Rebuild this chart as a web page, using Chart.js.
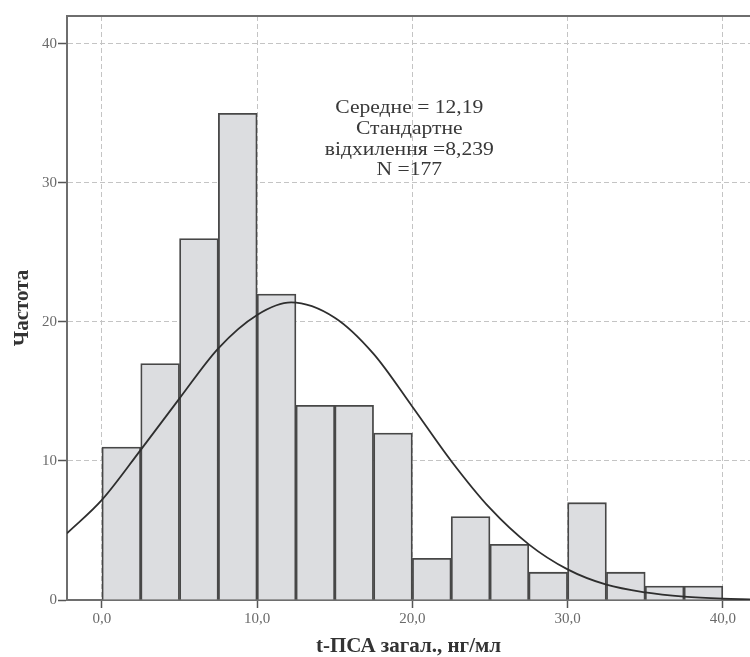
<!DOCTYPE html>
<html>
<head>
<meta charset="utf-8">
<script src="https://cdn.jsdelivr.net/npm/chart.js@4.4.1/dist/chart.umd.min.js"></script>
<style>
  html, body { margin: 0; padding: 0; background: #ffffff; overflow: hidden; }
  #wrap { width: 750px; height: 657px; }
</style>
</head>
<body>
<div id="wrap"><canvas id="c" width="750" height="657"></canvas></div>
<script>
// ---- data ----
const binCenters = [1.25, 3.75, 6.25, 8.75, 11.25, 13.75, 16.25, 18.75, 21.25, 23.75, 26.25, 28.75, 31.25, 33.75, 36.25, 38.75];
const binCounts  = [11, 17, 26, 35, 22, 14, 14, 12, 3, 6, 4, 2, 7, 2, 1, 1];

const curveX = [-2.25, 0, 2.5, 5, 7.5, 10, 12.19, 15, 17.5, 20, 22.5, 25, 27.5, 30, 32.5, 35, 37.5, 40, 41.75];
const curveY = [4.8, 7.2, 10.8, 14.5, 18.1, 20.5, 21.4, 20.3, 17.7, 13.9, 10.0, 6.6, 4.0, 2.2, 1.1, 0.55, 0.25, 0.1, 0.05];

const xTickValues = [0, 10, 20, 30, 40];
const xTickLabels = ['0,0', '10,0', '20,0', '30,0', '40,0'];
const yTickValues = [0, 10, 20, 30, 40];
const yTickLabels = ['0', '10', '20', '30', '40'];

const statLines = ['Середне = 12,19', 'Стандартне', 'відхилення =8,239', 'N =177'];
const xTitle = 't-ПСА загал., нг/мл';
const yTitle = 'Частота';

// ---- chart ----
const SERIF = '"Liberation Serif", "DejaVu Serif", serif';

const barData = binCenters.map((x, i) => ({ x: x, y: binCounts[i] }));
const curveData = curveX.map((x, i) => ({ x: x, y: curveY[i] }));

const framePlugin = {
  id: 'frame',
  afterDraw(chart) {
    const ctx = chart.ctx;
    const a = chart.chartArea;
    ctx.save();
    ctx.strokeStyle = '#6e6e6e';
    ctx.lineWidth = 2;
    ctx.setLineDash([]);
    ctx.beginPath();
    ctx.moveTo(a.left - 1, a.top);
    ctx.lineTo(a.right, a.top);
    ctx.stroke();

    // stats text (slightly wide serif, as in the reference)
    const xs = chart.scales.x, ys = chart.scales.y;
    const cx = xs.getPixelForValue(19.8);
    const cy = ys.getPixelForValue(35.35);
    ctx.fillStyle = '#383838';
    ctx.font = '18px ' + SERIF;
    ctx.textAlign = 'center';
    ctx.textBaseline = 'middle';
    ctx.translate(cx, cy);
    ctx.scale(1.2, 1);
    statLines.forEach((t, i) => {
      ctx.fillText(t, 0, i * 20.7);
    });
    ctx.restore();
  }
};

new Chart(document.getElementById('c'), {
  type: 'bar',
  data: {
    datasets: [
      {
        type: 'line',
        data: curveData,
        borderColor: '#2e2e2e',
        borderWidth: 1.8,
        pointRadius: 0,
        fill: false,
        cubicInterpolationMode: 'monotone',
        order: 0
      },
      {
        type: 'bar',
        data: barData,
        backgroundColor: '#dcdde0',
        borderColor: '#474747',
        borderWidth: 1.8,
        barPercentage: 1,
        categoryPercentage: 1,
        order: 1
      }
    ]
  },
  options: {
    responsive: false,
    animation: false,
    layout: { padding: { top: 16, right: 0, left: 0, bottom: 0 } },
    plugins: { legend: { display: false }, tooltip: { enabled: false } },
    scales: {
      x: {
        type: 'linear',
        min: -2.25,
        max: 41.75,
        offset: false,
        afterBuildTicks(s) { s.ticks = xTickValues.map(v => ({ value: v })); },
        afterFit(s) { s.height = 57; },
        ticks: {
          autoSkip: false,
          maxRotation: 0,
          padding: 2,
          color: '#6a6a6a',
          font: { family: SERIF, size: 15 },
          callback(v) { const i = xTickValues.indexOf(v); return i >= 0 ? xTickLabels[i] : ''; }
        },
        grid: {
          offset: false,
          color: '#c4c4c4',
          lineWidth: 1,
          drawTicks: true,
          tickLength: 8,
          tickColor: '#555555',
          tickBorderDash: [],
          tickWidth: 1.5
        },
        border: { display: true, color: '#6e6e6e', width: 2, dash: [5, 3] },
        title: {
          display: true,
          text: xTitle,
          color: '#333333',
          font: { family: SERIF, size: 21, weight: 'bold', lineHeight: 1 },
          padding: { top: 0, bottom: 0 }
        }
      },
      y: {
        type: 'linear',
        min: 0,
        max: 42,
        afterBuildTicks(s) { s.ticks = yTickValues.map(v => ({ value: v })); },
        afterFit(s) { s.width = 67; },
        ticks: {
          padding: 1,
          color: '#6a6a6a',
          font: { family: SERIF, size: 15 },
          callback(v) { const i = yTickValues.indexOf(v); return i >= 0 ? yTickLabels[i] : ''; }
        },
        grid: {
          color: '#c4c4c4',
          lineWidth: 1,
          drawTicks: true,
          tickLength: 9,
          tickColor: '#555555',
          tickBorderDash: [],
          tickWidth: 1.5
        },
        border: { display: true, color: '#6e6e6e', width: 2, dash: [5, 3] },
        title: {
          display: true,
          text: yTitle,
          color: '#333333',
          font: { family: SERIF, size: 21, weight: 'bold', lineHeight: 1 },
          padding: { top: 12, bottom: 0 }
        }
      }
    }
  },
  plugins: [framePlugin]
});
</script>
</body>
</html>
